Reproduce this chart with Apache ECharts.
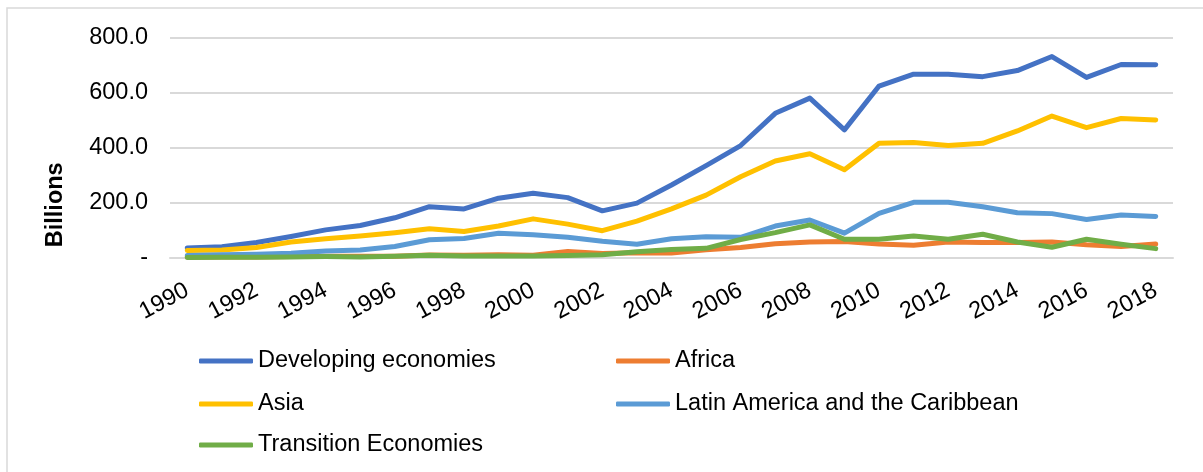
<!DOCTYPE html>
<html>
<head>
<meta charset="utf-8">
<script src="https://cdn.jsdelivr.net/npm/echarts@6/dist/echarts.min.js"></script>
<style>
  html, body { margin: 0; padding: 0; background: #fff; }
  #chart { width: 1203px; height: 472px; }
</style>
</head>
<body>
<div id="chart"></div>
<script>
// FDI inflows, billions of US dollars
const years = ['1990','1991','1992','1993','1994','1995','1996','1997','1998','1999',
  '2000','2001','2002','2003','2004','2005','2006','2007','2008','2009',
  '2010','2011','2012','2013','2014','2015','2016','2017','2018'];

const developingEconomies = [36, 41, 56, 78, 102, 118, 146, 186, 178, 217,
  235, 219, 171, 199, 265, 335, 408, 525, 580, 465,
  624, 667, 667, 658, 680, 731, 655, 702, 701];

const africa = [3, 4, 4, 5, 6, 6, 6, 11, 10, 12,
  10, 24, 16, 19, 18, 30, 38, 52, 58, 60,
  51, 46, 58, 56, 56, 58, 48, 42, 51];

const asia = [27, 29, 38, 58, 70, 80, 92, 106, 96, 116,
  142, 123, 99, 134, 178, 228, 295, 352, 378, 320,
  416, 419, 408, 416, 461, 515, 473, 506, 501];

const latinAmerica = [9, 12, 14, 17, 25, 29, 42, 66, 71, 90,
  84, 75, 61, 50, 70, 77, 75, 116, 138, 90,
  162, 202, 202, 186, 164, 161, 140, 156, 151];

const transitionEconomies = [2, 3, 3, 4, 5, 4, 6, 10, 7, 7,
  7, 9, 12, 23, 31, 35, 67, 92, 120, 68,
  68, 80, 68, 86, 58, 39, 68, 50, 34];

const yTicks = { min: 0, max: 800, step: 200 };

const seriesDefs = [
  { name: 'Developing economies', data: developingEconomies, color: '#4472C4' },
  { name: 'Africa', data: africa, color: '#ED7D31' },
  { name: 'Asia', data: asia, color: '#FFC000' },
  { name: 'Latin America and the Caribbean', data: latinAmerica, color: '#5B9BD5' },
  { name: 'Transition Economies', data: transitionEconomies, color: '#70AD47' }
];

const FONT = '"Liberation Sans", Arial, sans-serif';
const TEXT = '#000';

// legend laid out as two columns, three rows
const legendSlots = [
  { left: 199, top: 349 },
  { left: 616, top: 349 },
  { left: 199, top: 392 },
  { left: 616, top: 392 },
  { left: 199, top: 433 }
];

const chart = echarts.init(document.getElementById('chart'), null, { renderer: 'canvas' });

chart.setOption({
  animation: false,
  backgroundColor: '#fff',
  graphic: [{
    type: 'rect',
    silent: true,
    shape: { x: 7, y: 8, width: 1400, height: 700 },
    style: { fill: 'none', stroke: '#d9d9d9', lineWidth: 1.5 }
  }],
  grid: { left: 170, right: 30, top: 37.5, bottom: 214, containLabel: false },
  legend: seriesDefs.map((s, i) => ({
    data: [s.name],
    left: legendSlots[i].left,
    top: legendSlots[i].top,
    padding: 0,
    icon: 'roundRect',
    itemWidth: 54,
    itemHeight: 5,
    textStyle: { fontFamily: FONT, fontSize: 23.5, color: TEXT, lineHeight: 24 }
  })),
  xAxis: {
    type: 'category',
    data: years,
    boundaryGap: true,
    axisLine: { show: true, lineStyle: { color: '#d9d9d9', width: 2 } },
    axisTick: { show: false },
    axisLabel: {
      interval: 1,
      rotate: 28,
      margin: 31,
      fontFamily: FONT,
      fontSize: 23.5,
      color: TEXT
    }
  },
  yAxis: {
    type: 'value',
    min: yTicks.min,
    max: yTicks.max,
    interval: yTicks.step,
    name: 'Billions',
    nameLocation: 'middle',
    nameGap: 102,
    nameTextStyle: {
      fontFamily: FONT, fontSize: 23.5, fontWeight: 'bold', color: TEXT,
      padding: [0, 114, 0, 0]
    },
    axisLine: { show: false },
    axisTick: { show: false },
    splitLine: { lineStyle: { color: '#d9d9d9', width: 2 } },
    axisLabel: {
      margin: 22,
      fontFamily: FONT,
      fontSize: 23.5,
      color: TEXT,
      formatter: v => (v === 0 ? '-' : v.toFixed(1))
    }
  },
  series: seriesDefs.map(s => ({
    name: s.name,
    type: 'line',
    data: s.data,
    symbol: 'none',
    showSymbol: false,
    smooth: false,
    color: s.color,
    lineStyle: { color: s.color, width: 5, cap: 'round', join: 'round' },
    emphasis: { disabled: true }
  }))
});
</script>
</body>
</html>
